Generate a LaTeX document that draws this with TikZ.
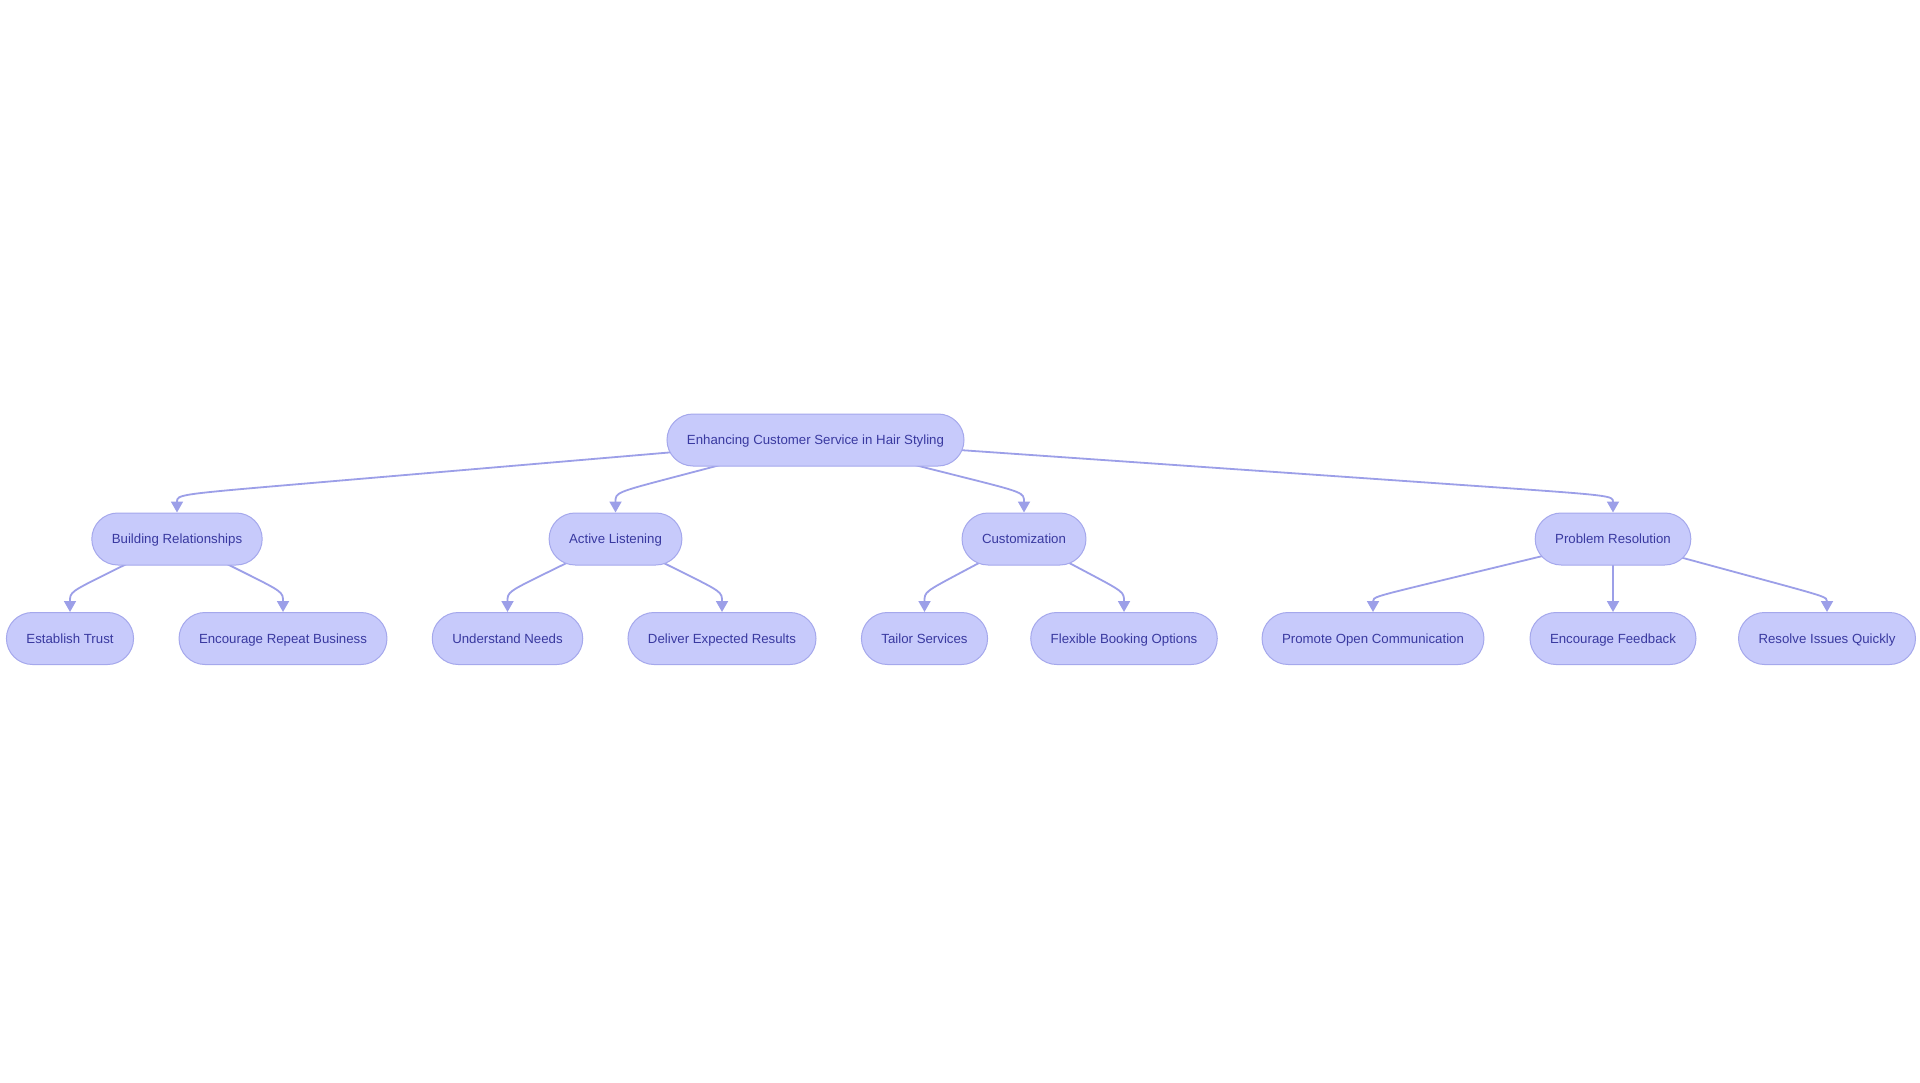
\documentclass[tikz,border=0pt]{standalone}
\usepackage{fontspec}
\setmainfont{Liberation Sans}
\usepackage{tikz}
\usetikzlibrary{arrows.meta,calc,backgrounds}

\definecolor{boxfill}{RGB}{199,202,251}
\definecolor{boxline}{RGB}{165,168,236}
\definecolor{boxtext}{RGB}{57,57,160}
\definecolor{linkcol}{RGB}{156,159,232}

\tikzset{
  topic/.style={draw=boxline, line width=1pt, fill=boxfill, rounded corners=26pt,
    minimum height=52pt, inner xsep=20pt, inner ysep=0pt, text=boxtext,
    text height=9.5pt, text depth=0pt,
    font=\fontsize{13.25}{16}\selectfont},
  link/.style={draw=linkcol, line width=1.8pt, -{Triangle[length=11pt,width=12pt]}},
}

\begin{document}
\begin{tikzpicture}[x=1pt,y=1pt,yscale=-1]
        \path[use as bounding box] (0,0) rectangle (1920,1083);

        % root
        \node[topic] (enhance) at (815.5,440) {Enhancing Customer Service in Hair Styling};

        % second row
        \node[topic] (relations) at (177,539) {Building Relationships};
        \node[topic] (listening) at (615.5,539) {Active Listening};
        \node[topic] (custom) at (1024,539) {Customization};
        \node[topic] (problems) at (1613,539) {Problem Resolution};

        % third row
        \node[topic] (trust) at (70,638.5) {Establish Trust};
        \node[topic] (repeat) at (283,638.5) {Encourage Repeat Business};
        \node[topic] (needs) at (507.5,638.5) {Understand Needs};
        \node[topic] (results) at (722,638.5) {Deliver Expected Results};
        \node[topic] (tailor) at (924.5,638.5) {Tailor Services};
        \node[topic] (booking) at (1124,638.5) {Flexible Booking Options};
        \node[topic] (openComm) at (1373,638.5) {Promote Open Communication};
        \node[topic] (feedback) at (1613,638.5) {Encourage Feedback};
        \node[topic] (resolve) at (1827,638.5) {Resolve Issues Quickly};

        \begin{scope}[on background layer]
        \fill[white] (0,0) rectangle (1920,1083);

        \coordinate (kRel) at ($(relations.north)+(0,-18)$);
        \coordinate (kLis) at ($(listening.north)+(0,-20)$);
        \coordinate (kCus) at ($(custom.north)+(0,-20)$);
        \coordinate (kPro) at ($(problems.north)+(0,-17)$);
        \draw[link] (enhance.center) -- ($(enhance.center)!0.8!(kRel)$) .. controls (kRel) .. (relations.north);
        \draw[link] (enhance.center) -- ($(enhance.center)!0.7!(kLis)$) .. controls (kLis) .. (listening.north);
        \draw[link] (enhance.center) -- ($(enhance.center)!0.7!(kCus)$) .. controls (kCus) .. (custom.north);
        \draw[link] (enhance.center) -- ($(enhance.center)!0.82!(kPro)$) .. controls (kPro) .. (problems.north);

        \coordinate (kTru) at ($(trust.north)+(0,-20)$);
        \coordinate (kRep) at ($(repeat.north)+(0,-20)$);
        \draw[link] (relations.center) -- ($(relations.center)!0.62!(kTru)$) .. controls (kTru) .. (trust.north);
        \draw[link] (relations.center) -- ($(relations.center)!0.62!(kRep)$) .. controls (kRep) .. (repeat.north);

        \coordinate (kNee) at ($(needs.north)+(0,-20)$);
        \coordinate (kRes) at ($(results.north)+(0,-20)$);
        \draw[link] (listening.center) -- ($(listening.center)!0.62!(kNee)$) .. controls (kNee) .. (needs.north);
        \draw[link] (listening.center) -- ($(listening.center)!0.62!(kRes)$) .. controls (kRes) .. (results.north);

        \coordinate (kTai) at ($(tailor.north)+(0,-20)$);
        \coordinate (kBoo) at ($(booking.north)+(0,-20)$);
        \draw[link] (custom.center) -- ($(custom.center)!0.64!(kTai)$) .. controls (kTai) .. (tailor.north);
        \draw[link] (custom.center) -- ($(custom.center)!0.64!(kBoo)$) .. controls (kBoo) .. (booking.north);

        \coordinate (kOpe) at ($(openComm.north)+(0,-15)$);
        \coordinate (kSol) at ($(resolve.north)+(0,-15)$);
        \draw[link] (problems.center) -- ($(problems.center)!0.7!(kOpe)$) .. controls (kOpe) .. (openComm.north);
        \draw[link] (problems.center) -- (feedback.north);
        \draw[link] (problems.center) -- ($(problems.center)!0.68!(kSol)$) .. controls (kSol) .. (resolve.north);
        \end{scope}

\end{tikzpicture}
\end{document}
